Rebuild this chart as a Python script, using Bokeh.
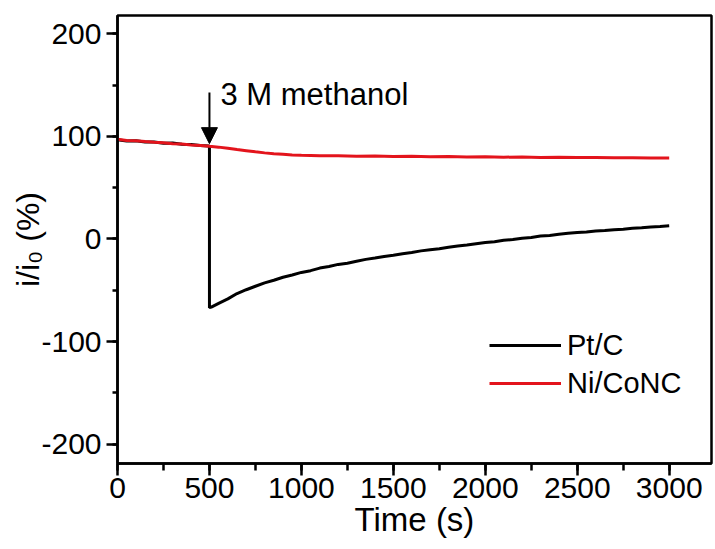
from bokeh.plotting import figure
from bokeh.models import (Range1d, SingleIntervalTicker, Arrow, NormalHead, Label,
                          Legend, LegendItem, PrintfTickFormatter)
from bokeh.embed import file_html
from bokeh.resources import INLINE

# ---- data ----
ptc_t = [0, 50, 100, 150, 200, 250, 300, 350, 400, 450, 500,
         500, 510, 550, 600, 650, 700, 750, 800, 850, 900, 950, 1000,
         1050, 1100, 1150, 1200, 1250, 1300, 1350, 1400, 1450, 1500,
         1550, 1600, 1650, 1700, 1750, 1800, 1850, 1900, 1950, 2000,
         2050, 2100, 2150, 2200, 2250, 2300, 2350, 2400, 2450, 2500,
         2550, 2600, 2650, 2700, 2750, 2800, 2850, 2900, 2950, 3000]
ptc_v = [96.8, 95.6, 95.9, 94.7, 94.5, 93.4, 93.6, 92.5, 92.2, 91.1, 90.8,
         -67.0, -66.5, -62.8, -58.4, -53.2, -49.5, -46.1, -42.8, -40.2, -37.3, -35.1, -32.6,
         -30.9, -28.4, -26.9, -24.8, -23.6, -21.7, -19.9, -18.6, -17.0, -15.8,
         -14.3, -13.1, -11.6, -10.4, -9.6, -8.1, -6.9, -5.8, -4.6, -3.5,
         -2.6, -1.2, -0.6, 0.8, 1.5, 2.9, 3.4, 4.6, 5.5, 6.3,
         6.9, 7.8, 8.2, 9.1, 9.6, 10.4, 10.9, 11.6, 12.1, 12.8]

nico_t = [0, 50, 100, 150, 200, 250, 300, 350, 400, 450, 500, 550, 600, 650,
          700, 750, 800, 850, 900, 950, 1000, 1100, 1200, 1300, 1400, 1500,
          1600, 1700, 1800, 1900, 2000, 2100, 2200, 2300, 2400, 2500, 2600,
          2700, 2800, 2900, 3000]
nico_v = [97.2, 96.1, 95.8, 95.0, 94.3, 93.9, 93.0, 92.6, 91.7, 91.3, 90.4, 89.6, 88.5, 87.2,
          86.1, 85.0, 84.0, 83.2, 82.6, 82.0, 81.6, 81.1, 81.3, 80.8, 80.9, 80.5,
          80.6, 80.2, 80.4, 80.0, 80.2, 79.8, 80.0, 79.6, 79.8, 79.4, 79.5,
          79.2, 79.3, 78.9, 79.0]

series_labels = ["Pt/C", "Ni/CoNC"]
annotation_text = "3 M methanol"
x_title = "Time (s)"
y_title = "i/i\u2080 (%)"
injection_time = 500
arrow_top = 143
arrow_tip = 93

FONT = "Liberation Sans"

p = figure(width=715, height=549, output_backend="svg", toolbar_location=None,
           x_range=Range1d(0, 3230), y_range=Range1d(-219, 218),
           min_border_left=117, min_border_right=4, min_border_top=15,
           min_border_bottom=86, background_fill_color="white",
           border_fill_color="white")
p.xgrid.visible = False
p.ygrid.visible = False
p.outline_line_color = "black"
p.outline_line_width = 2.5
p.outline_line_alpha = 1

p.xaxis.ticker = SingleIntervalTicker(interval=500, num_minor_ticks=2)
p.yaxis.ticker = SingleIntervalTicker(interval=100, num_minor_ticks=2)
p.yaxis.formatter = PrintfTickFormatter(format="%d")
p.xaxis.formatter = PrintfTickFormatter(format="%d")

for ax in (p.xaxis[0], p.yaxis[0]):
    ax.axis_line_color = "black"
    ax.axis_line_width = 2.5
    ax.major_tick_line_color = "black"
    ax.major_tick_line_width = 2.5
    ax.minor_tick_line_color = "black"
    ax.minor_tick_line_width = 2.5
    ax.major_tick_in = 0
    ax.minor_tick_in = 0
    ax.major_label_text_font = FONT
    ax.major_label_text_font_size = "30px"
    ax.major_label_text_color = "black"
    ax.axis_label_text_font = FONT
    ax.axis_label_text_font_style = "normal"
    ax.axis_label_text_color = "black"

p.xaxis.axis_label_text_font_size = "33px"
p.yaxis.axis_label_text_font_size = "32px"
p.xaxis.major_tick_out = 12
p.xaxis.minor_tick_out = 7
p.yaxis.major_tick_out = 11
p.yaxis.minor_tick_out = 5
p.xaxis.major_label_standoff = 2
p.yaxis.major_label_standoff = 5
p.xaxis.axis_label = x_title
p.xaxis.axis_label_standoff = 0
p.yaxis.axis_label = y_title
p.yaxis.axis_label_standoff = -8

r_pt = p.line(ptc_t, ptc_v, line_color="black", line_width=3)
r_ni = p.line(nico_t, nico_v, line_color="#e3141c", line_width=3)

p.add_layout(Arrow(end=NormalHead(size=16, fill_color="black", line_color="black"),
                   x_start=injection_time, y_start=arrow_top,
                   x_end=injection_time, y_end=arrow_tip,
                   line_color="black", line_width=2))
p.add_layout(Label(x=560, y=141, text=annotation_text, text_font=FONT,
                   text_font_size="31px", text_color="black",
                   text_baseline="alphabetic"))

legend = Legend(items=[LegendItem(label=series_labels[0], renderers=[r_pt]),
                       LegendItem(label=series_labels[1], renderers=[r_ni])],
                location=(372, 61), background_fill_alpha=0, border_line_alpha=0,
                padding=0, margin=0, spacing=0, glyph_width=72, glyph_height=38,
                label_height=38, label_standoff=6, label_text_font=FONT,
                label_text_font_size="29px", label_text_color="black")
p.add_layout(legend)

open("out.html", "w").write(file_html(p, INLINE))
